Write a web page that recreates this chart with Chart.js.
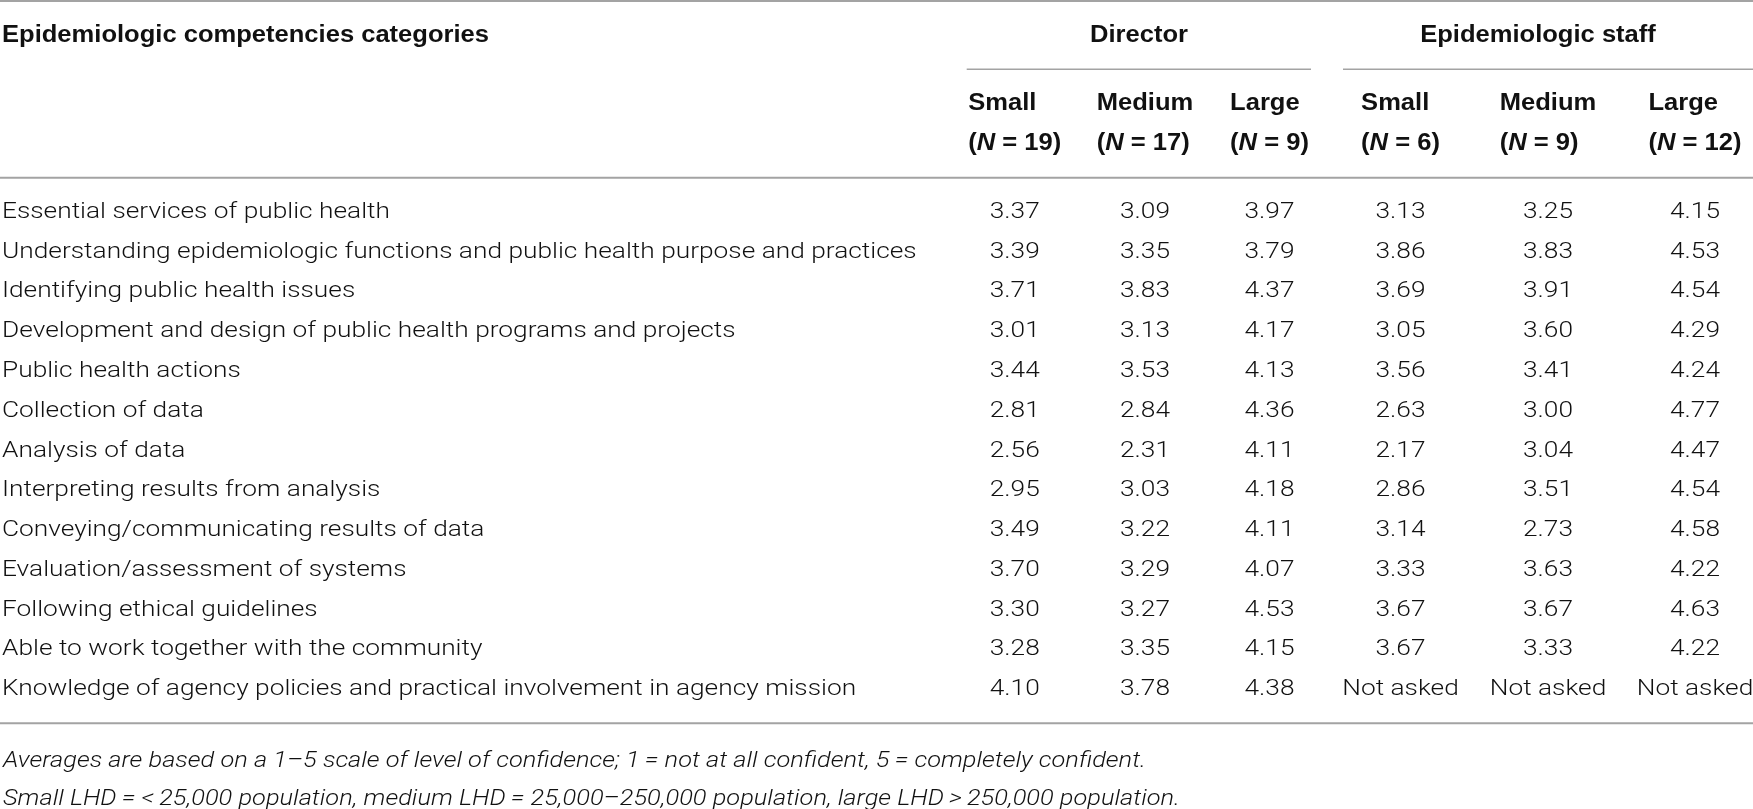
<!DOCTYPE html>
<html>
<head>
<meta charset="utf-8">
<title>Epidemiologic competencies by LHD size</title>
<script src="https://cdn.jsdelivr.net/npm/chart.js@4.4.1/dist/chart.umd.min.js"></script>
<style>
  html, body { margin: 0; padding: 0; background: #fff; }
  #wrap { width: 1753px; height: 809px; position: relative; }
</style>
</head>
<body>
<div id="wrap"><canvas id="table"></canvas></div>
<script>
// table rows
const competencies = [
    'Essential services of public health',
    'Understanding epidemiologic functions and public health purpose and practices',
    'Identifying public health issues',
    'Development and design of public health programs and projects',
    'Public health actions',
    'Collection of data',
    'Analysis of data',
    'Interpreting results from analysis',
    'Conveying/communicating results of data',
    'Evaluation/assessment of systems',
    'Following ethical guidelines',
    'Able to work together with the community',
    'Knowledge of agency policies and practical involvement in agency mission'
];

// column headers
const stubHeader = 'Epidemiologic competencies categories';
const groups = ['Director', 'Epidemiologic staff'];
const sizes = ['Small', 'Medium', 'Large', 'Small', 'Medium', 'Large'];
const sampleN = [19, 17, 9, 6, 9, 12];

// mean confidence scores (null = not asked)
const directorSmall  = [3.37, 3.39, 3.71, 3.01, 3.44, 2.81, 2.56, 2.95, 3.49, 3.70, 3.30, 3.28, 4.10];
const directorMedium = [3.09, 3.35, 3.83, 3.13, 3.53, 2.84, 2.31, 3.03, 3.22, 3.29, 3.27, 3.35, 3.78];
const directorLarge  = [3.97, 3.79, 4.37, 4.17, 4.13, 4.36, 4.11, 4.18, 4.11, 4.07, 4.53, 4.15, 4.38];
const staffSmall     = [3.13, 3.86, 3.69, 3.05, 3.56, 2.63, 2.17, 2.86, 3.14, 3.33, 3.67, 3.67, null];
const staffMedium    = [3.25, 3.83, 3.91, 3.60, 3.41, 3.00, 3.04, 3.51, 2.73, 3.63, 3.67, 3.33, null];
const staffLarge     = [4.15, 4.53, 4.54, 4.29, 4.24, 4.77, 4.47, 4.54, 4.58, 4.22, 4.63, 4.22, null];
const notAskedText = 'Not asked';

const footnotes = [
    'Averages are based on a 1\u20135 scale of level of confidence; 1\u2009= not at all confident, 5\u2009= completely confident.',
    'Small LHD\u2009= <\u200925,000 population, medium LHD\u2009= 25,000\u2013250,000 population, large LHD\u2009>\u2009250,000 population.'
];

const columns = [directorSmall, directorMedium, directorLarge, staffSmall, staffMedium, staffLarge];

// page layout (pixels)
const layout = {
    width: 1753,
    colCenter: [1014.7, 1145, 1269.5, 1400.5, 1548, 1695],
    groupCenter: [1139, 1538],
    groupRule: [[966.7, 1311], [1343, 1753]],
    ruleTop: 1, ruleGroup: 69.3, ruleHead: 177.7, ruleBottom: 723.3,
    headBase: 41.7, sizeBase: 110, nBase: 150,
    baseOffset: 8,
    noteBase: [766.7, 805],
    // widths measured on the reference, used to match its letter width
    bodyFitText: 'Essential services of public health', bodyFitWidth: 388,
    boldFitWidth: 487,
    noteFitWidth: 1143
};

const fonts = {
    body: '300 22.5px Roboto, "Liberation Sans", Arial, sans-serif',
    bold: 'bold 23.5px "Liberation Sans", Arial, sans-serif',
    boldItalic: 'italic bold 23.5px "Liberation Sans", Arial, sans-serif',
    note: 'italic 300 22px Roboto, "Liberation Sans", Arial, sans-serif'
};
const inkColor = '#111';
const ruleColor = '#a3a3a3';

// draw text squeezed/stretched horizontally by sx
function drawText(ctx, text, x, y, sx, align) {
    const w = ctx.measureText(text).width * sx;
    let x0 = x;
    if (align === 'center') x0 = x - w / 2;
    if (align === 'right') x0 = x - w;
    ctx.save();
    ctx.translate(x0, y);
    ctx.scale(sx, 1);
    ctx.textAlign = 'left';
    ctx.fillText(text, 0, 0);
    ctx.restore();
    return w;
}

function rule(ctx, x1, x2, y, w) {
    ctx.beginPath();
    ctx.lineWidth = w;
    ctx.moveTo(x1, y);
    ctx.lineTo(x2, y);
    ctx.stroke();
}

const tablePlugin = {
    id: 'tableText',
    afterDatasetsDraw(chart) {
        const ctx = chart.ctx;
        const yScale = chart.scales.y;
        ctx.save();
        ctx.fillStyle = inkColor;
        ctx.strokeStyle = ruleColor;
        ctx.textBaseline = 'alphabetic';

        // rules
        rule(ctx, 0, layout.width, layout.ruleTop, 2);
        rule(ctx, 0, layout.width, layout.ruleHead, 2);
        rule(ctx, 0, layout.width, layout.ruleBottom, 2);
        layout.groupRule.forEach(r => rule(ctx, r[0], r[1], layout.ruleGroup, 1.6));

        // bold headers
        ctx.font = fonts.bold;
        const sb = layout.boldFitWidth / ctx.measureText(stubHeader).width;
        drawText(ctx, stubHeader, 2, layout.headBase, sb, 'left');
        groups.forEach((g, i) => drawText(ctx, g, layout.groupCenter[i], layout.headBase, sb, 'center'));

        sizes.forEach((s, c) => {
            ctx.font = fonts.bold;
            const parts = [['(', fonts.bold], ['N', fonts.boldItalic], [' = ' + sampleN[c] + ')', fonts.bold]];
            let nw = 0;
            parts.forEach(p => { ctx.font = p[1]; nw += ctx.measureText(p[0]).width * sb; });
            ctx.font = fonts.bold;
            const sw = ctx.measureText(s).width * sb;
            const left = layout.colCenter[c] - Math.max(nw, sw) / 2;
            drawText(ctx, s, left, layout.sizeBase, sb, 'left');
            let x = left;
            parts.forEach(p => {
                ctx.font = p[1];
                x += drawText(ctx, p[0], x, layout.nBase, sb, 'left');
            });
        });

        // row labels on the y scale
        ctx.font = fonts.body;
        const sBody = layout.bodyFitWidth / ctx.measureText(layout.bodyFitText).width;
        competencies.forEach((name, i) => {
            drawText(ctx, name, 2, yScale.getPixelForValue(i) + layout.baseOffset, sBody, 'left');
        });

        // cell values at each point element
        chart.data.datasets.forEach((ds, d) => {
            const meta = chart.getDatasetMeta(d);
            meta.data.forEach((pt, i) => {
                const v = ds.data[i].v;
                const txt = v === null ? notAskedText : v.toFixed(2);
                drawText(ctx, txt, pt.x, pt.y + layout.baseOffset, sBody, 'center');
            });
        });

        // footnotes
        ctx.font = fonts.note;
        const sNote = layout.noteFitWidth / ctx.measureText(footnotes[0]).width;
        footnotes.forEach((f, i) => drawText(ctx, f, 3, layout.noteBase[i], sNote, 'left'));

        ctx.restore();
    }
};

new Chart(document.getElementById('table'), {
    type: 'scatter',
    data: {
        datasets: columns.map((vals, c) => ({
            label: groups[c < 3 ? 0 : 1] + ' ' + sizes[c],
            data: vals.map((v, r) => ({ x: layout.colCenter[c], y: competencies[r], v: v })),
            pointRadius: 0,
            pointHoverRadius: 0,
            showLine: false
        }))
    },
    options: {
        responsive: true,
        maintainAspectRatio: false,
        animation: false,
        events: [],
        layout: { padding: { top: 190.1, bottom: 102.1, left: 0, right: 0 } },
        plugins: {
            legend: { display: false },
            tooltip: { enabled: false }
        },
        scales: {
            x: { type: 'linear', min: 0, max: layout.width, display: false },
            y: { type: 'category', labels: competencies, offset: true, display: false }
        }
    },
    plugins: [tablePlugin]
});
</script>
</body>
</html>
